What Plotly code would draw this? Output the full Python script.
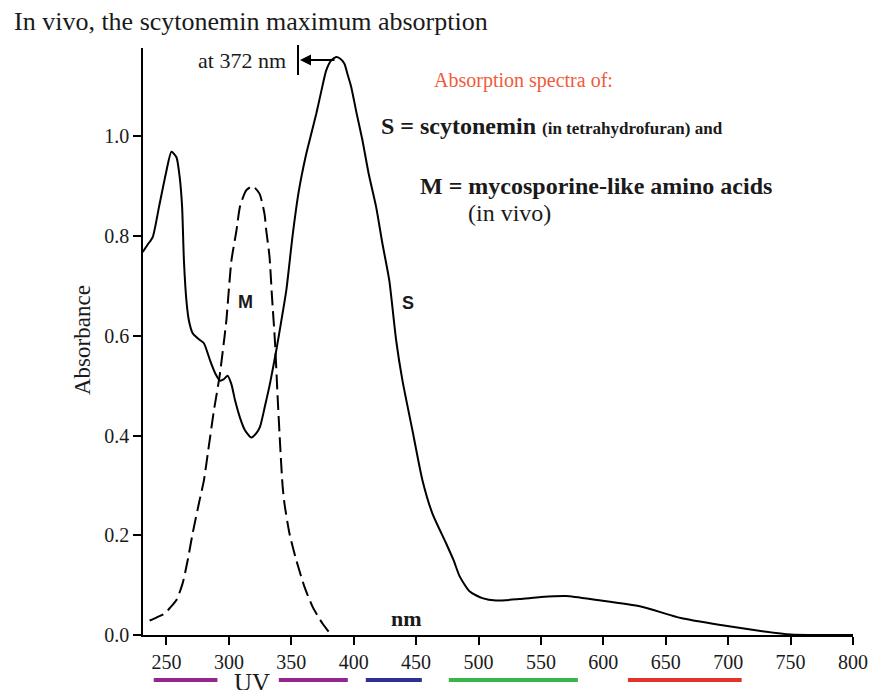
import plotly.graph_objects as go

# ---------------- data ----------------
s_wavelength = [231, 235, 239, 244, 249.5, 254, 258, 260.5, 262.5, 264, 266, 268, 271, 276, 280,
                285, 289, 293, 296, 299, 302, 305, 309, 313, 318, 322, 325, 329, 333, 338,
                342, 346, 351, 356, 362, 366, 370, 374, 378, 382, 386, 389, 392.5, 395, 398,
                402, 407, 412, 418, 423, 428.5, 434, 439, 447, 455, 463, 474, 480, 485, 493,
                503, 514, 533, 550, 570, 595, 630, 662, 694, 729, 750, 775, 800]
s_absorbance = [0.768, 0.783, 0.798, 0.858, 0.925, 0.969, 0.958, 0.92, 0.86, 0.75, 0.67, 0.63, 0.605, 0.593, 0.585,
                0.55, 0.525, 0.51, 0.513, 0.52, 0.503, 0.47, 0.435, 0.41, 0.396, 0.405, 0.418, 0.46, 0.505, 0.571,
                0.63, 0.691, 0.80, 0.89, 0.965, 1.005, 1.045, 1.09, 1.132, 1.152, 1.159, 1.156, 1.146, 1.125, 1.099,
                1.05, 0.992, 0.925, 0.858, 0.785, 0.711, 0.591, 0.511, 0.411, 0.311, 0.244, 0.184, 0.15, 0.117, 0.087,
                0.074, 0.069, 0.072, 0.076, 0.078, 0.07, 0.057, 0.034, 0.02, 0.007, 0.001, 0.0, 0.0]

m_wavelength = [236.5, 242, 248.5, 253, 258, 263, 267, 271, 276.5, 280, 283.5, 288, 292.5, 296.5, 298,
                302, 306, 309, 314, 319, 324.5, 328.5, 330, 332.5, 334.5, 337, 339, 341, 343, 344.5,
                348.5, 354, 360.5, 367, 375, 382]
m_absorbance = [0.029, 0.035, 0.043, 0.055, 0.07, 0.104, 0.15, 0.204, 0.27, 0.31, 0.371, 0.45, 0.518, 0.598, 0.631,
                0.75, 0.81, 0.86, 0.892, 0.9, 0.885, 0.845, 0.81, 0.76, 0.68, 0.585, 0.48, 0.384, 0.30, 0.264,
                0.204, 0.15, 0.097, 0.057, 0.023, 0.0]

x_ticks = [250, 300, 350, 400, 450, 500, 550, 600, 650, 700, 750, 800]
y_ticks = [0.0, 0.2, 0.4, 0.6, 0.8, 1.0]

band_start = [239.8, 340.0, 409.7, 476.2, 619.7]
band_end = [290.8, 395.3, 454.6, 579.6, 710.8]
band_color = ["#92278f", "#92278f", "#2e3192", "#39b54a", "#e2322a"]

# ---------------- geometry helpers ----------------
OFF = 8  # page body margin
W, H = 882 - OFF, 690 - OFF
ML, MT = 143 - OFF, 48 - OFF
PW, PH = 710, 587
MR, MB = W - ML - PW, H - MT - PH


def px(x):
    return (x - OFF - ML) / PW


def py(y):
    return (MT + PH - (y - OFF)) / PH


SERIF = "Liberation Serif, Times New Roman, serif"
SANS = "Liberation Sans, Arial, sans-serif"

fig = go.Figure()
fig.add_trace(go.Scatter(x=s_wavelength, y=s_absorbance, mode="lines",
                         line=dict(color="black", width=2, shape="spline", smoothing=0.6),
                         hoverinfo="skip", showlegend=False))
fig.add_trace(go.Scatter(x=m_wavelength, y=m_absorbance, mode="lines",
                         line=dict(color="black", width=2, dash="15px,6px", shape="spline", smoothing=0.6),
                         hoverinfo="skip", showlegend=False))

shapes = []
for a, b, c in zip(band_start, band_end, band_color):
    shapes.append(dict(type="line", xref="x", yref="paper", x0=a, x1=b, y0=py(680), y1=py(680),
                       line=dict(color=c, width=4)))
shapes.append(dict(type="line", xref="paper", yref="paper", x0=px(298), x1=px(298), y0=py(45), y1=py(75),
                   line=dict(color="black", width=2)))

ann = []
ann.append(dict(text="In vivo, the scytonemin maximum absorption", x=px(12), y=py(22), xanchor="left",
                yanchor="middle", font=dict(family=SERIF, size=26, color="#1a1a1a")))
ann.append(dict(text="at 372 nm", x=px(242), y=py(60), xanchor="center", yanchor="middle",
                font=dict(family=SERIF, size=22, color="#1a1a1a")))
ann.append(dict(text="", x=px(300), y=py(60), showarrow=True, ax=36, ay=0, arrowhead=2, arrowsize=1.1,
                arrowwidth=2, arrowcolor="black"))
ann.append(dict(text="Absorption spectra of:", x=px(432), y=py(80), xanchor="left", yanchor="middle",
                font=dict(family=SERIF, size=20, color="#f15a3a")))
ann.append(dict(text="<b>S = scytonemin <span style='font-size:17px'>(in tetrahydrofuran) and</span></b>",
                x=px(379), y=py(126), xanchor="left", yanchor="middle",
                font=dict(family=SERIF, size=24, color="#1a1a1a")))
ann.append(dict(text="<b>M = mycosporine-like amino acids</b>", x=px(418), y=py(186), xanchor="left",
                yanchor="middle", font=dict(family=SERIF, size=24, color="#1a1a1a")))
ann.append(dict(text="(in vivo)", x=px(466), y=py(213), xanchor="left", yanchor="middle",
                font=dict(family=SERIF, size=24, color="#1a1a1a")))
ann.append(dict(text="<b>M</b>", x=px(245), y=py(302), xanchor="center", yanchor="middle",
                font=dict(family=SANS, size=18, color="#1a1a1a")))
ann.append(dict(text="<b>S</b>", x=px(408), y=py(303), xanchor="center", yanchor="middle",
                font=dict(family=SANS, size=18, color="#1a1a1a")))
ann.append(dict(text="<b>nm</b>", x=px(406), y=py(618), xanchor="center", yanchor="middle",
                font=dict(family=SERIF, size=22, color="#1a1a1a")))
ann.append(dict(text="UV", x=px(252), y=py(667), xanchor="center", yanchor="top",
                font=dict(family=SERIF, size=25, color="#1a1a1a")))
ann.append(dict(text="Absorbance", x=px(82), y=py(340), xanchor="center", yanchor="middle", textangle=-90,
                font=dict(family=SERIF, size=23, color="#1a1a1a")))
for a in ann:
    a.setdefault("xref", "paper")
    a.setdefault("yref", "paper")
    a.setdefault("showarrow", False)

fig.update_layout(
    width=W, height=H,
    margin=dict(l=ML, r=MR, t=MT, b=MB, autoexpand=False),
    paper_bgcolor="white", plot_bgcolor="white",
    shapes=shapes, annotations=ann,
    xaxis=dict(range=[231.2, 800], tickvals=x_ticks, ticktext=[str(v) for v in x_ticks],
               showgrid=False, zeroline=False, showline=True, linecolor="black", linewidth=1.5,
               ticks="outside", ticklen=8, tickwidth=1.5, tickcolor="black",
               tickfont=dict(family=SERIF, size=20, color="#1a1a1a")),
    yaxis=dict(range=[0, 1.177], tickvals=y_ticks, ticktext=["%.1f" % v for v in y_ticks],
               showgrid=False, zeroline=False, showline=True, linecolor="black", linewidth=1.5,
               ticks="outside", ticklen=8, tickwidth=1.5, tickcolor="black",
               tickfont=dict(family=SERIF, size=20, color="#1a1a1a")),
)

fig.write_html("out.html")
